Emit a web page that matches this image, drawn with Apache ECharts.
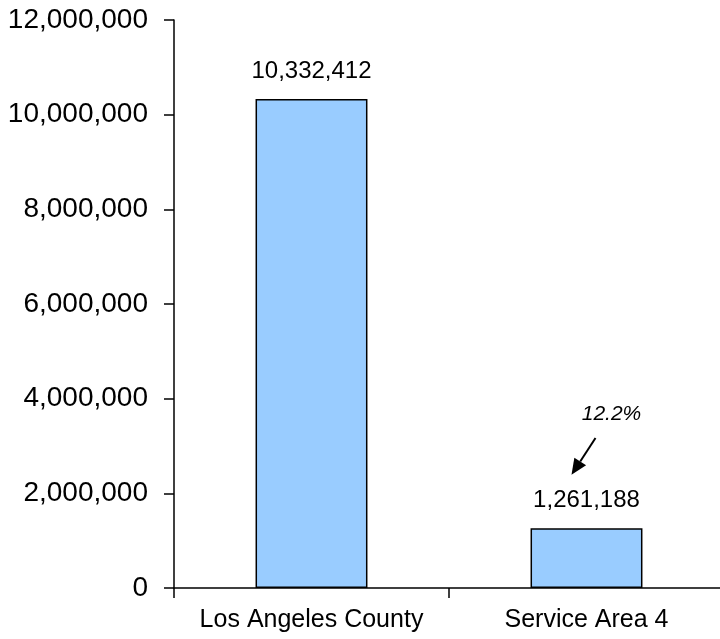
<!DOCTYPE html>
<html>
<head>
<meta charset="utf-8">
<script src="https://cdn.jsdelivr.net/npm/echarts@6/dist/echarts.min.js"></script>
<style>
  html, body { margin: 0; padding: 0; background: #fff; overflow: hidden; }
  /* a little wider than the window: the x axis runs past the right edge */
  #chart { width: 724px; height: 639px; }
</style>
</head>
<body>
<div id="chart"></div>
<script>
  // data
  const categories = ['Los Angeles County', 'Service Area 4']
  const population = [10332412, 1261188]
  const yTicks = [0, 2000000, 4000000, 6000000, 8000000, 10000000, 12000000]

  // share note over the second bar
  const shareText = '12.2%'
  const shareLabelValue = 3680000
  const arrowFromValue = 3170000
  const arrowToValue = 2390000

  const FONT = '"Liberation Sans", Arial, sans-serif'
  const fmt = v => v.toLocaleString('en-US')

  const chart = echarts.init(document.getElementById('chart'))

  const option = {
    animation: false,
    grid: { left: 174, right: 0, top: 20, bottom: 51 },
    xAxis: {
      type: 'category',
      data: categories,
      axisLine: { lineStyle: { color: '#000', width: 1.5 } },
      axisTick: { show: true, interval: 0, length: 10, lineStyle: { color: '#000', width: 1.5 } },
      axisLabel: { color: '#000', fontFamily: FONT, fontSize: 25, margin: 20, interval: 0, hideOverlap: false },
    },
    yAxis: {
      type: 'value',
      min: yTicks[0],
      max: yTicks[yTicks.length - 1],
      interval: yTicks[1] - yTicks[0],
      axisLine: { show: true, lineStyle: { color: '#000', width: 1.5 } },
      axisTick: { show: true, length: 10, lineStyle: { color: '#000', width: 1.5 } },
      splitLine: { show: false },
      axisLabel: { color: '#000', fontFamily: FONT, fontSize: 28, margin: 26, formatter: fmt },
    },
    series: [
      {
        type: 'bar',
        data: population,
        barWidth: '40.7%',
        itemStyle: { color: '#99CCFF', borderColor: '#000', borderWidth: 1.5 },
        label: {
          show: true,
          position: 'top',
          distance: 16,
          color: '#000',
          fontFamily: FONT,
          fontSize: 24,
          formatter: p => fmt(p.value),
        },
      },
    ],
  }
  chart.setOption(option)

  // arrow + percentage, placed through the axes
  const cat = categories[1]
  const lab = chart.convertToPixel({ gridIndex: 0 }, [cat, shareLabelValue])
  const from = chart.convertToPixel({ gridIndex: 0 }, [cat, arrowFromValue])
  const to = chart.convertToPixel({ gridIndex: 0 }, [cat, arrowToValue])
  const x1 = from[0] + 9, y1 = from[1]
  const x2 = to[0] - 15, y2 = to[1]
  const ang = Math.atan2(y2 - y1, x2 - x1)
  const hl = 16, hw = 7
  const bx = x2 - hl * Math.cos(ang), by = y2 - hl * Math.sin(ang)
  const px = -Math.sin(ang) * hw, py = Math.cos(ang) * hw

  chart.setOption({
    graphic: [
      {
        type: 'text',
        x: lab[0] + 25,
        y: lab[1],
        style: {
          text: shareText,
          fill: '#000',
          font: 'italic 21px ' + FONT,
          align: 'center',
          verticalAlign: 'middle',
        },
      },
      {
        type: 'line',
        shape: { x1: x1, y1: y1, x2: bx, y2: by },
        style: { stroke: '#000', lineWidth: 2 },
      },
      {
        type: 'polygon',
        shape: { points: [[x2, y2], [bx + px, by + py], [bx - px, by - py]] },
        style: { fill: '#000' },
      },
    ],
  })
</script>
</body>
</html>
